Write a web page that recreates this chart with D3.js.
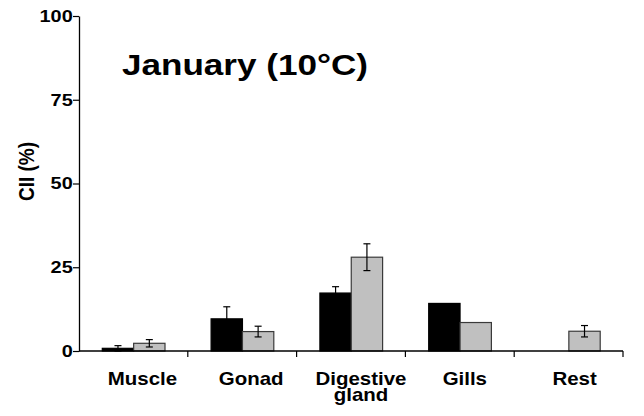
<!DOCTYPE html>
<html><head><meta charset="utf-8">
<script src="https://cdn.jsdelivr.net/npm/d3@7"></script>
<style>body{margin:0;background:#fff}svg{display:block;font-family:"Liberation Sans",Arial,sans-serif}</style>
</head><body>
<script>
const categories = ["Muscle","Gonad","Digestive gland","Gills","Rest"];
const series = ["black","grey"];
const blackValues = [0.8, 9.6, 17.3, 14.2, null];
const blackErrors = [0.8, 3.6, 1.9, null, null];
const greyValues = [2.3, 5.8, 28.0, 8.5, 5.9];
const greyErrors = [1.1, 1.6, 4.0, null, 1.7];
const yTicks = [0, 25, 50, 75, 100];
const title = "January (10°C)";
const yLabel = "CII (%)";

const W = 644, H = 416, SX = 1.17;
const svg = d3.select("body").append("svg").attr("width", W).attr("height", H);
const x = d3.scaleBand().domain(categories).range([79, 623]).paddingInner(0).paddingOuter(0);
const y = d3.scaleLinear().domain([0, 100]).range([351, 16]);
const xs = d3.scaleBand().domain(series).range([23.3, 86]);

const fills = {black: "#000", grey: "#c0c0c0"};
const strokes = {black: "#000", grey: "#3a3a3a"};
const data = [];
categories.forEach((c, i) => {
  data.push({c, s: "black", v: blackValues[i], e: blackErrors[i]});
  data.push({c, s: "grey", v: greyValues[i], e: greyErrors[i]});
});
const valid = data.filter(d => d.v != null);

svg.append("g").selectAll("rect").data(valid).join("rect")
  .attr("x", d => x(d.c) + xs(d.s))
  .attr("y", d => y(d.v))
  .attr("width", xs.bandwidth())
  .attr("height", d => y(0) - y(d.v))
  .attr("fill", d => fills[d.s])
  .attr("stroke", d => strokes[d.s])
  .attr("stroke-width", 1.2);

const eb = svg.append("g").attr("stroke", "#000").attr("stroke-width", 1.2);
valid.filter(d => d.e != null).forEach(d => {
  const cx = x(d.c) + xs(d.s) + xs.bandwidth() / 2;
  const y1 = y(d.v + d.e), y2 = y(Math.max(0, d.v - d.e));
  eb.append("line").attr("x1", cx).attr("x2", cx).attr("y1", y1).attr("y2", y2);
  eb.append("line").attr("x1", cx - 3.5).attr("x2", cx + 3.5).attr("y1", y1).attr("y2", y1);
  eb.append("line").attr("x1", cx - 3.5).attr("x2", cx + 3.5).attr("y1", y2).attr("y2", y2);
});

// Y axis
const ya = svg.append("g").attr("transform", "translate(79,0)")
  .call(d3.axisLeft(y).tickValues(yTicks).tickSize(6).tickSizeOuter(0).tickPadding(6));
ya.select(".domain").attr("stroke-width", 1.3);
ya.selectAll(".tick line").attr("stroke-width", 1.2);
ya.selectAll(".tick text").attr("font-size", 17).attr("font-weight", "bold")
  .attr("font-family", '"Liberation Sans",Arial,sans-serif')
  .attr("x", -6.3 / SX).attr("transform", `scale(${SX},1)`);

// X axis (ticks at band boundaries)
const xa = svg.append("g").attr("transform", "translate(0,351)");
xa.append("line").attr("x1", 79).attr("x2", 623).attr("stroke", "#000").attr("stroke-width", 1.3);
const bounds = categories.map(c => x(c)).slice(1).concat([x.range()[1]]);
xa.selectAll("line.t").data(bounds).join("line").attr("class", "t")
  .attr("x1", d => d).attr("x2", d => d).attr("y1", 0).attr("y2", 6)
  .attr("stroke", "#000").attr("stroke-width", 1.2);

// Category labels (multi-line labels as one text with tspans)
const labelOffsets = [9, 9, 10, 5, 6];
categories.forEach((c, i) => {
  const parts = c === "Digestive gland" ? ["Digestive", "gland"] : [c];
  const cx = x(c) + x.bandwidth() / 2 + labelOffsets[i];
  const t = svg.append("text")
    .attr("transform", `translate(${cx},385) scale(${SX},1)`)
    .attr("text-anchor", "middle").attr("font-size", 17.5).attr("font-weight", "bold");
  parts.forEach((p, j) => {
    t.append("tspan").attr("x", 0).attr("y", j * 16).text(p);
  });
});

// Title
svg.append("text").text(title)
  .attr("transform", `translate(122,74.5) scale(${SX},1)`)
  .attr("font-size", 30).attr("font-weight", "bold");

// Y label
svg.append("text").text(yLabel)
  .attr("transform", `translate(34,171.5) rotate(-90) scale(1,${SX})`)
  .attr("text-anchor", "middle").attr("font-size", 19).attr("font-weight", "bold");
</script>
</body></html>
